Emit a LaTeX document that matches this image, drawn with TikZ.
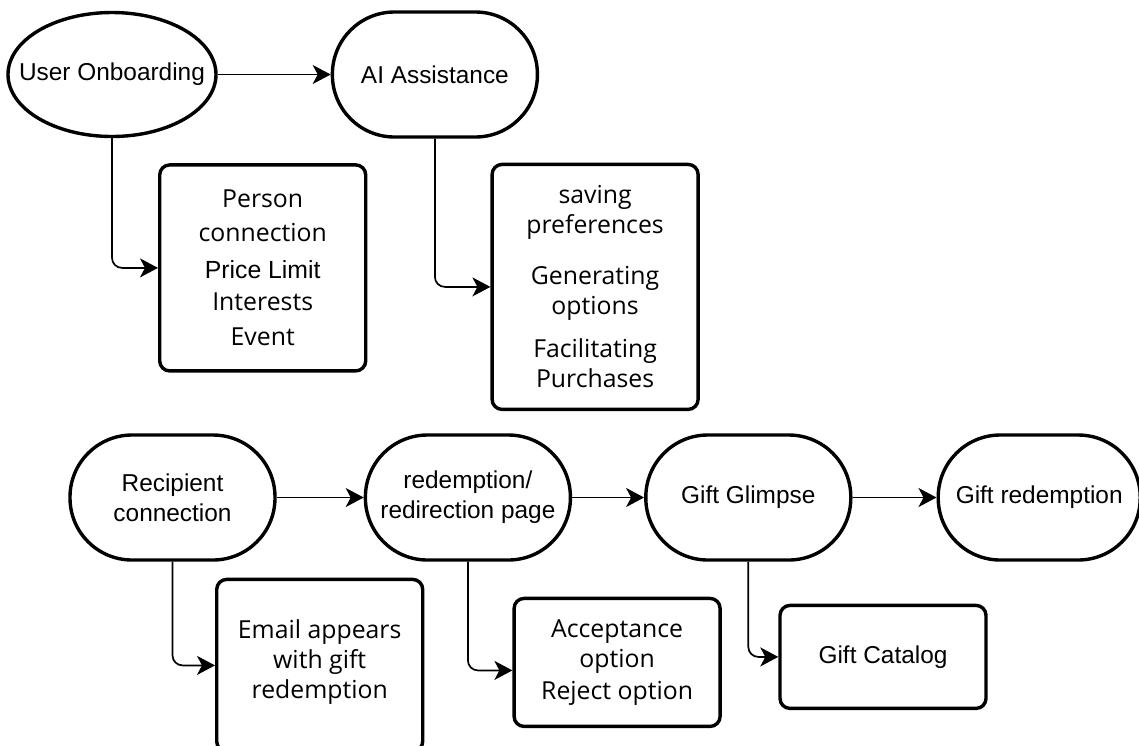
\documentclass[tikz,border=0pt]{standalone}
\usepackage{fontspec}
\setmainfont{Open Sans}
\newfontfamily\arialfont{Liberation Sans}
\usepackage{tikz}
\usetikzlibrary{arrows.meta}
\usetikzlibrary{positioning}
\usetikzlibrary{shapes.geometric}

\tikzset{
	stage/.style={draw,line width=1.7pt,rectangle,rounded corners=31pt,minimum width=102.5pt,minimum height=62.5pt,inner sep=0pt,align=center,font=\arialfont\fontsize{12.2}{15}\selectfont},
	start/.style={draw,line width=1.7pt,ellipse,minimum width=104pt,minimum height=62pt,inner sep=0pt,font=\arialfont\fontsize{12.2}{15}\selectfont},
	detail/.style={draw,line width=1.7pt,rectangle,rounded corners=5pt,minimum width=103pt,inner sep=0pt,align=center,font=\fontsize{12.4}{15}\selectfont},
	flow/.style={-{Stealth[length=9pt,width=9.5pt,inset=2.5pt]},line width=0.85pt},
	branch/.style={flow,rounded corners=5pt},
}

\begin{document}
\begin{tikzpicture}[x=0.5pt,y=-0.5pt]
		\useasboundingbox (0,0) rectangle (1139,745);

		% sender side
		\node [start] (onboard) at (112,74.5) {\makebox[0pt]{User Onboarding}};
		\node [stage,right=56.5pt of onboard] (assist) {AI Assistance};
		\node [detail,minimum height=103pt,below right=12.5pt and 23pt of onboard.south] (profile)
			{Person\\[2pt]connection\\[3.5pt]{\arialfont Price Limit}\\[1pt]Interests\\[2.5pt]Event};
		\node [detail,minimum height=122.5pt,below right=12pt and 27.75pt of assist.south] (helper)
			{saving\\preferences\\[10.5pt]Generating\\options\\[6.5pt]Facilitating\\Purchases};

		% recipient side
		\node [stage] (recipient) at (172.5,497.5) {Recipient\\connection};
		\node [stage,right=43.5pt of recipient] (redirect) {redemption/\\redirection page};
		\node [stage,right=36pt of redirect] (glimpse) {Gift Glimpse};
		\node [stage,minimum width=101pt,right=42pt of glimpse] (redeem) {Gift redemption};
		\node [detail,minimum height=86pt,below right=8pt and 21.25pt of recipient.south] (mail)
			{Email appears\\with gift\\redemption\\[-9pt]};
		\node [detail,minimum height=64pt,below right=17.5pt and 22.25pt of redirect.south] (choice)
			{Acceptance\\option\\[1pt]Reject option};
		\node [detail,minimum height=51.5pt,below right=21pt and 15pt of glimpse.south,font=\arialfont\fontsize{12.2}{15}\selectfont] (catalog)
			{Gift Catalog};

		\draw [flow] (onboard) -- (assist);
		\draw [flow] (recipient) -- (redirect);
		\draw [flow] (redirect) -- (glimpse);
		\draw [flow] (glimpse) -- (redeem);

		\draw [branch] (onboard.south) |- (profile.west);
		\draw [branch] (assist.south) |- (helper.west);
		\draw [branch] (recipient.south) |- (mail.west);
		\draw [branch] (redirect.south) |- ([yshift=-4pt]choice.west);
		\draw [branch] (glimpse.south) |- (catalog.west);
	\end{tikzpicture}
\end{document}
